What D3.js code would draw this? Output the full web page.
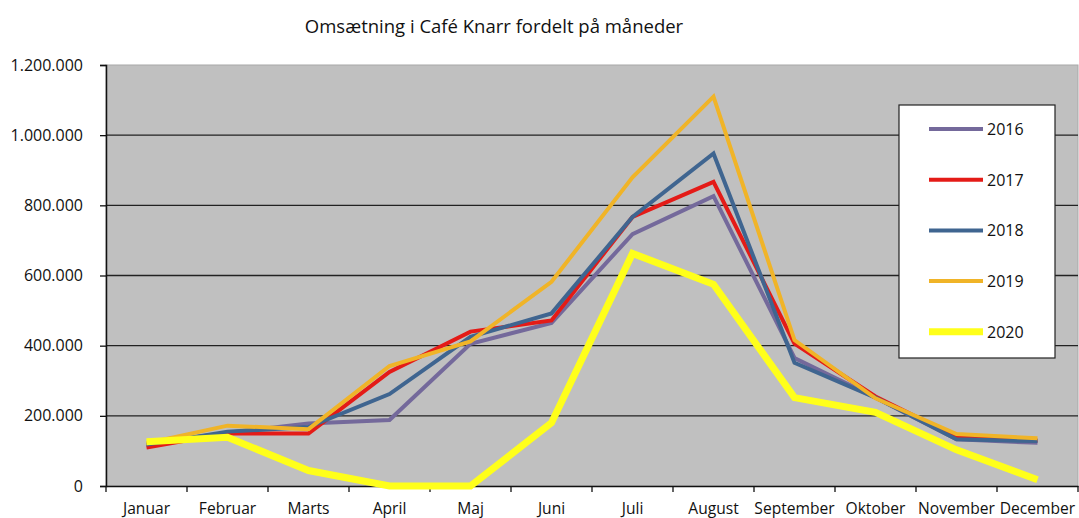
<!DOCTYPE html>
<html>
<head>
<meta charset="utf-8">
<script src="https://cdn.jsdelivr.net/npm/d3@7"></script>
<style>
  body { margin: 0; background: #fff; }
  text { font-family: "Open Sans", "Noto Sans", sans-serif; fill: #111; }
</style>
</head>
<body>
<div id="chart"></div>
<script>
// months and yearly revenue series
const months = ["Januar", "Februar", "Marts", "April", "Maj", "Juni", "Juli", "August", "September", "Oktober", "November", "December"];
const years = ["2016", "2017", "2018", "2019", "2020"];
const v2016 = [120000, 152000, 178000, 188000, 405000, 465000, 718000, 826000, 365000, 252000, 133000, 123000];
const v2017 = [110000, 150000, 150000, 325000, 440000, 472000, 767000, 867000, 406000, 255000, 140000, 130000];
const v2018 = [118000, 155000, 168000, 262000, 425000, 492000, 767000, 948000, 351000, 252000, 133000, 128000];
const v2019 = [122000, 172000, 162000, 342000, 412000, 582000, 880000, 1110000, 416000, 250000, 148000, 136000];
const v2020 = [126000, 139000, 44000, 0, 0, 180000, 663000, 575000, 252000, 210000, 103000, 18000];
const yTicks = [0, 200000, 400000, 600000, 800000, 1000000, 1200000];

const colors = ["#74699b", "#e41b17", "#3f6590", "#f0b428", "#ffff1a"];
const widths = [4, 4, 4, 4, 7];
const seriesVals = [v2016, v2017, v2018, v2019, v2020];

const W = 1079, H = 518;
const margin = {top: 65, right: 1, bottom: 32, left: 106};
const width = W - margin.left - margin.right;
const height = H - margin.top - margin.bottom;

const svg = d3.select("#chart").append("svg")
    .attr("width", W)
    .attr("height", H);

svg.append("text")
    .attr("x", 494)
    .attr("y", 33)
    .attr("text-anchor", "middle")
    .style("font-size", "18.5px")
    .text("Omsætning i Café Knarr fordelt på måneder");

const g = svg.append("g")
    .attr("transform", "translate(" + margin.left + "," + margin.top + ")");

const x = d3.scaleBand().domain(months).range([0, width]);
const y = d3.scaleLinear().domain([0, 1200000]).range([height, 0]);

const fmt = d3.formatLocale({decimal: ",", thousands: ".", grouping: [3], currency: ["", " kr."]}).format(",d");

// plot background
g.append("rect")
    .attr("width", width)
    .attr("height", height)
    .attr("fill", "#c0c0c0")
    .attr("stroke", "#a8a8a8")
    .attr("stroke-width", 1);

// gridlines
g.selectAll(".grid")
    .data(yTicks.slice(1, -1))
    .enter().append("line")
    .attr("x1", 0)
    .attr("x2", width)
    .attr("y1", d => y(d))
    .attr("y2", d => y(d))
    .attr("stroke", "#222")
    .attr("stroke-width", 1.3);

// y axis
const yAxis = g.append("g")
    .call(d3.axisLeft(y).tickValues(yTicks).tickFormat(fmt).tickSize(6).tickPadding(17));
yAxis.select(".domain").attr("stroke", "#111").attr("stroke-width", 1.5);
yAxis.selectAll(".tick line").attr("stroke", "#111").attr("stroke-width", 1.3);
yAxis.selectAll("text").style("font-size", "16px").attr("fill", "#1a1a1a");

// x axis with ticks at category boundaries
const xAxis = g.append("g")
    .attr("transform", "translate(0," + height + ")")
    .call(d3.axisBottom(x).tickSize(0).tickPadding(17));
xAxis.select(".domain").attr("stroke", "#111").attr("stroke-width", 1.5);
xAxis.selectAll("text").style("font-size", "15.6px").attr("fill", "#1a1a1a");
xAxis.selectAll(".bound")
    .data(months.concat(["end"]))
    .enter().append("line")
    .attr("x1", (d, i) => i * x.bandwidth())
    .attr("x2", (d, i) => i * x.bandwidth())
    .attr("y1", 0)
    .attr("y2", 6)
    .attr("stroke", "#111")
    .attr("stroke-width", 1.3);

// lines
const line = d3.line()
    .x((d, i) => x(months[i]) + x.bandwidth() / 2)
    .y(d => y(d));

years.forEach((yr, k) => {
    g.append("path")
        .datum(seriesVals[k])
        .attr("d", line)
        .attr("fill", "none")
        .attr("stroke", colors[k])
        .attr("stroke-width", widths[k])
        .attr("stroke-linejoin", "miter");
});

// legend
const legend = svg.append("g").attr("transform", "translate(899,105)");
legend.append("rect")
    .attr("width", 156)
    .attr("height", 253)
    .attr("fill", "#fff")
    .attr("stroke", "#222")
    .attr("stroke-width", 1.2);

years.forEach((yr, k) => {
    const ly = 24 + k * 50.7;
    legend.append("line")
        .attr("x1", 30)
        .attr("x2", 84)
        .attr("y1", ly)
        .attr("y2", ly)
        .attr("stroke", colors[k])
        .attr("stroke-width", widths[k]);
    legend.append("text")
        .attr("x", 88)
        .attr("y", ly + 6)
        .style("font-size", "16px")
        .text(yr);
});
</script>
</body>
</html>
